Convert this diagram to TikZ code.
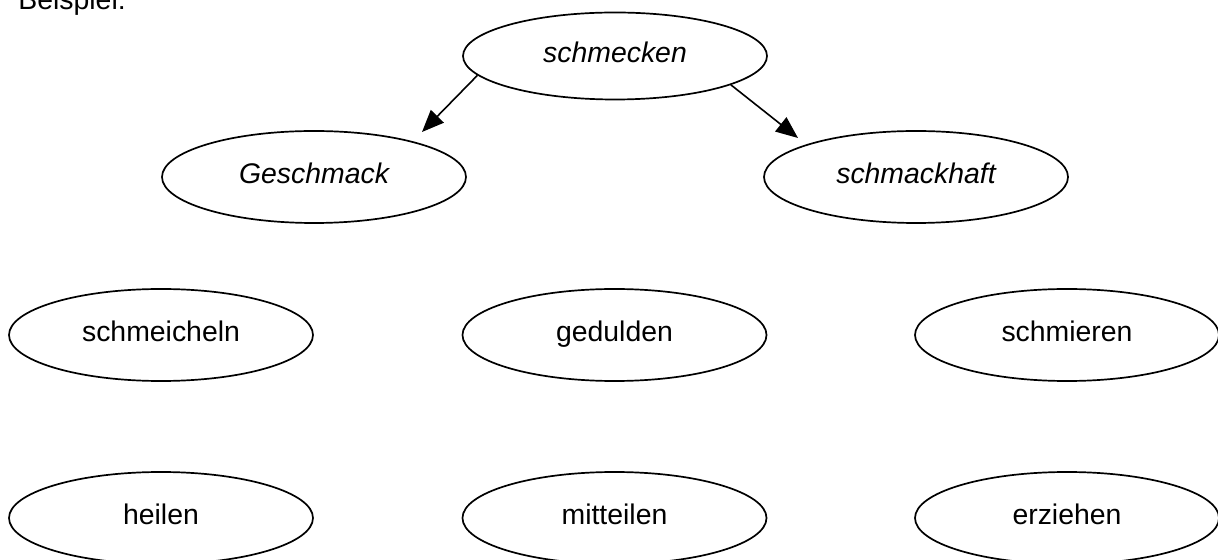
\documentclass[tikz,border=0pt]{standalone}
\usepackage{fontspec}
\setmainfont{Liberation Sans}
\usetikzlibrary{shapes.geometric,arrows.meta}
\begin{document}
\begin{tikzpicture}[x=0.5pt,y=-0.5pt,
  oval/.style={ellipse,draw,line width=0.85pt,inner sep=0pt,
    minimum width=152pt,minimum height=46pt,
    font=\fontsize{14.2}{17}\selectfont,text height=0.716em,text depth=0.1em},
  arr/.style={-{Triangle[length=11pt,width=9pt]},line width=0.8pt}]
\useasboundingbox (0,0) rectangle (1218,560);
\node[anchor=base west,inner sep=0pt,font=\fontsize{14.2}{17}\selectfont] (bsp) at (18,10) {Beispiel:};
\node[oval,minimum height=43.5pt] (schmecken) at (615,56) {\itshape schmecken};
\node[oval] (gesch) at (314,177) {\itshape Geschmack};
\node[oval] (hafte) at (916,177) {\itshape schmackhaft};
\node[oval] (schmei) at (161,335) {schmeicheln};
\node[oval] (gedul) at (614.5,335) {gedulden};
\node[oval] (schmie) at (1067,335) {schmieren};
\node[oval] (heil) at (161,518) {heilen};
\node[oval] (mitt) at (614.5,518) {mitteilen};
\node[oval] (erz) at (1067,518) {erziehen};
\draw[arr] (schmecken.188.4) -- ([shift={(108,-45)}]gesch.center);
\draw[arr] (schmecken.346.2) -- ([shift={(-118,-39)}]hafte.center);
\end{tikzpicture}
\end{document}
